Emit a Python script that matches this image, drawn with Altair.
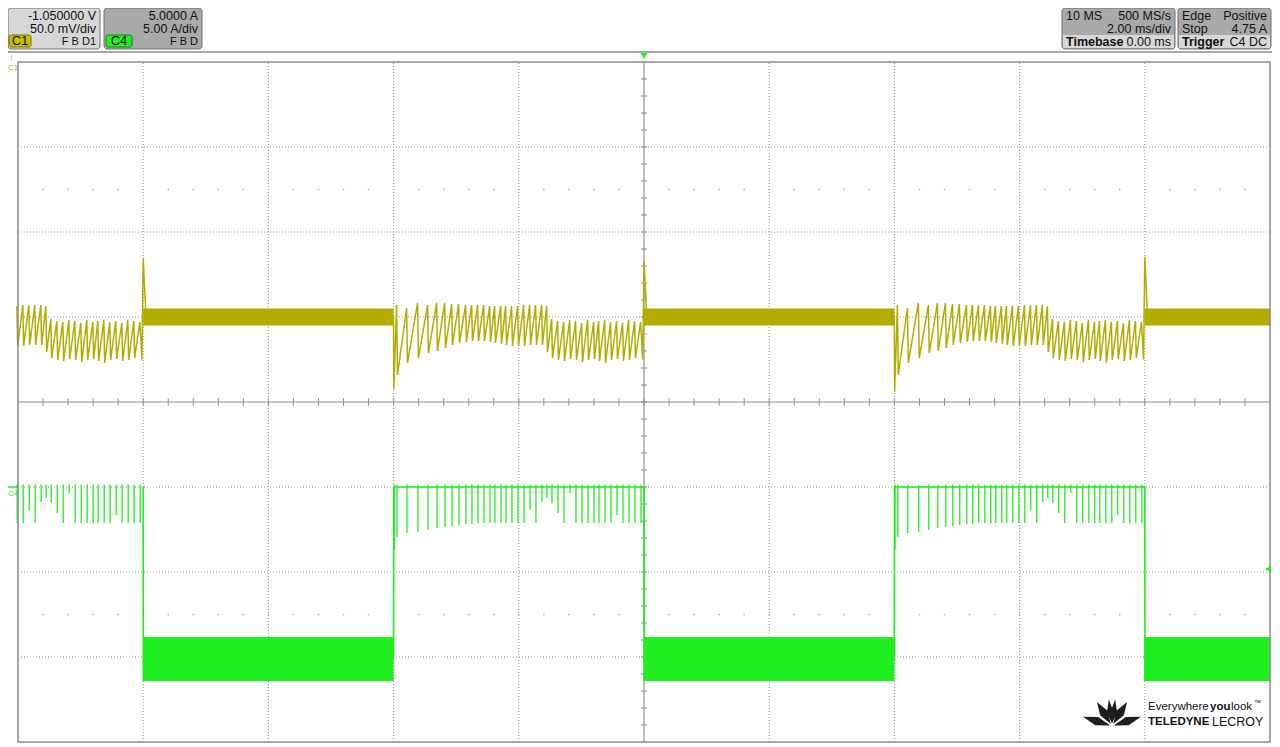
import math
import altair as alt
import pandas as pd

# ---------------- values ----------------
# time in ms (2.00 ms/div, 10 divisions), vertical position in screen divisions (+4 top .. -4 bottom)
c4_high_starts = [-2.0, 6.0, 14.0]          # C4 high level begins (ms)
c4_low_t0 = [2.0, 10.0, 18.0]               # C4 low (noisy band) segments
c4_low_t1 = [6.0, 14.0, 20.0]

# C1: sawtooth during one C4-high phase, times relative to the phase start (ms)
c1_upper_peak_t = [0.048, 0.208, 0.383, 0.543, 0.687, 0.815, 0.927, 1.038, 1.150, 1.246, 1.342, 1.438,
                   1.534, 1.613, 1.709, 1.789, 1.885, 1.981, 2.077, 2.173, 2.268, 2.364, 2.444]
c1_upper_peak_v = [1.141, 1.106, 1.165, 1.141, 1.165, 1.165, 1.153, 1.153, 1.141, 1.141, 1.141, 1.141,
                   1.129, 1.129, 1.129, 1.129, 1.129, 1.129, 1.141, 1.141, 1.141, 1.141, 1.129]
c1_upper_valley_v = [0.153, 0.318, 0.459, 0.518, 0.576, 0.600, 0.635, 0.671, 0.694, 0.706, 0.718, 0.718,
                     0.718, 0.706, 0.694, 0.682, 0.671, 0.659, 0.659, 0.659, 0.671, 0.671, 0.671]
c1_lower_peak_t = [2.524, 2.620, 2.716, 2.812, 2.907, 3.003, 3.099, 3.195, 3.275, 3.371, 3.466, 3.562,
                   3.658, 3.754, 3.850, 3.946]
c1_lower_peak_v = [0.976, 0.953, 0.941, 0.965, 0.953, 0.929, 0.965, 0.941, 0.953, 0.965, 0.941, 0.953,
                   0.929, 0.965, 0.953, 0.941]
c1_lower_valley_v = [0.588, 0.518, 0.494, 0.482, 0.506, 0.494, 0.471, 0.494, 0.506, 0.482, 0.459, 0.494,
                     0.506, 0.482, 0.494, 0.518, 0.500]
c1_band_top = [1.10, 1.10, 1.10]
c1_band_bottom = [0.90, 0.90, 0.90]
c1_band_mid = 1.0
c1_edge_spike = [1.69, 1.65, 1.71]     # overshoot where C4 falls (2, 10, 18 ms)
c1_edge_dip = [0.15, 0.15, 0.12]       # dip where C4 rises (6, 14 ms)

# C4: high level with switching spikes, low level noisy band
c4_high_level = -1.0
c4_band_top = [-2.765, -2.765, -2.765]
c4_band_bottom = [-3.282, -3.282, -3.282]
c4_band_mid = -3.02
c4_edge_spike = -1.741
c4_upper_spike_v = [-1.588, -1.541, -1.529, -1.506, -1.482, -1.471, -1.459, -1.447, -1.435, -1.435, -1.424,
                    -1.424, -1.424, -1.424, -1.424, -1.424, -1.424, -1.424, -1.424, -1.271, -1.424, -1.176,
                    -1.129]
c4_lower_spike_v = [-1.188, -1.306, -1.424, -1.071, -1.424, -1.424, -1.424, -1.424, -1.424, -1.424, -1.424,
                    -1.329, -1.424, -1.424, -1.424, -1.424]
c4_trigger_level = -1.965
trigger_time = 10.0

grid_t = [2, 4, 6, 8, 12, 14, 16, 18]
grid_v = [-3, -2, -1, 1, 2, 3]

# ---------------- geometry of the view ----------------
W, H = 1264, 739
FX0, FX1 = 10, 1262      # frame left / right (px in view)
FY0, FY1 = 54, 734       # frame top / bottom
tpp = 20.0 / (FX1 - FX0)
dpp = 8.0 / (FY1 - FY0)
x_dom = [0 - FX0 * tpp, 20 + (W - FX1) * tpp]
y_dom = [-4 - (H - FY1) * dpp, 4 + FY0 * dpp]
xs = alt.Scale(domain=x_dom, nice=False, zero=False)
ys = alt.Scale(domain=y_dom, nice=False, zero=False)

C1_COL = "#b3ac00"
C4_COL = "#1fee1f"
FONT = "Liberation Sans"

# ---------------- build traces ----------------
peak_t = c1_upper_peak_t + c1_lower_peak_t
peak_v = c1_upper_peak_v + c1_lower_peak_v
spike_v = c4_upper_spike_v + c4_lower_spike_v

c1_pts = []
c4_pts = []
c4_spikes = []
for i, s in enumerate(c4_high_starts):
    valleys = [c1_edge_dip[i]] + c1_upper_valley_v[1:] + c1_lower_valley_v[:-1]
    c1_pts.append((s - 0.002, c1_band_mid))
    for k in range(len(peak_t)):
        tv = s + (peak_t[k - 1] + 0.014 if k else 0.004)
        c1_pts.append((tv, valleys[k]))
        c1_pts.append((s + peak_t[k], peak_v[k]))
    e = s + 4.0
    c1_pts.append((e - 0.02, c1_lower_valley_v[-1]))
    c1_pts.append((e, c1_edge_spike[i]))
    c1_pts.append((e + 0.045, c1_band_mid))
    c1_pts.append((min(e + 4.0, 20.0) - 0.004, c1_band_mid))

    c4_pts.append((s - 0.002, c4_band_mid))
    c4_pts.append((s + 0.003, c4_high_level))
    c4_pts.append((e, c4_high_level))
    c4_pts.append((e + 0.002, c4_band_bottom[i]))
    c4_pts.append((e + 0.010, c4_band_mid))
    c4_pts.append((min(e + 4.0, 20.0) - 0.004, c4_band_mid))
    c4_spikes.append((s + 0.010, c4_edge_spike))
    for k in range(len(peak_t)):
        c4_spikes.append((s + peak_t[k] + 0.006, spike_v[k]))


def keep(pts):
    rows = [{"t": t, "v": v, "o": n} for n, (t, v) in enumerate(pts) if -0.02 <= t <= 20.02]
    return pd.DataFrame(rows)


c1_df = keep(c1_pts)
c4_df = keep(c4_pts)
sp_df = keep(c4_spikes)
sp_df["hi"] = c4_high_level + 0.03
c1_band = pd.DataFrame({"t0": c4_low_t0, "t1": c4_low_t1, "lo": c1_band_bottom, "hi": c1_band_top})
c4_band = pd.DataFrame({"t0": c4_low_t0, "t1": c4_low_t1, "lo": c4_band_bottom, "hi": c4_band_top})

X = lambda f: alt.X(f, type="quantitative", scale=xs, axis=None)
Y = lambda f: alt.Y(f, type="quantitative", scale=ys, axis=None)

dummy = pd.DataFrame({"a": [0]})

layers = []

# ---------------- grid ----------------
vgrid = pd.DataFrame({"t": grid_t, "a": [-4] * len(grid_t), "b": [4] * len(grid_t)})
hgrid = pd.DataFrame({"v": grid_v, "a": [0] * len(grid_v), "b": [20] * len(grid_v)})
layers.append(alt.Chart(vgrid).mark_rule(color="#8f8f8f", strokeDash=[1, 2], strokeWidth=1).encode(
    x=X("t"), y=Y("a"), y2="b"))
layers.append(alt.Chart(hgrid).mark_rule(color="#8f8f8f", strokeDash=[1, 2], strokeWidth=1).encode(
    y=Y("v"), x=X("a"), x2="b"))
center = pd.DataFrame({"t": [trigger_time], "a": [-4], "b": [4]})
layers.append(alt.Chart(center).mark_rule(color="#8f8f8f", strokeWidth=1.2).encode(x=X("t"), y=Y("a"), y2="b"))
hcenter = pd.DataFrame({"v": [0], "a": [0], "b": [20]})
layers.append(alt.Chart(hcenter).mark_rule(color="#8f8f8f", strokeWidth=1.2).encode(y=Y("v"), x=X("a"), x2="b"))

minor_t = [round(0.4 * k, 2) for k in range(1, 50)]
minor_v = [round(-4 + 0.2 * k, 2) for k in range(1, 40)]
mt = pd.DataFrame({"t": minor_t, "a": [-0.045] * len(minor_t), "b": [0.045] * len(minor_t)})
mv = pd.DataFrame({"v": minor_v, "a": [trigger_time - 0.05] * len(minor_v), "b": [trigger_time + 0.05] * len(minor_v)})
layers.append(alt.Chart(mt).mark_rule(color="#8f8f8f", strokeWidth=1).encode(x=X("t"), y=Y("a"), y2="b"))
layers.append(alt.Chart(mv).mark_rule(color="#8f8f8f", strokeWidth=1).encode(y=Y("v"), x=X("a"), x2="b"))
dots = pd.DataFrame({"t": minor_t * 2, "v": [2.5] * len(minor_t) + [-2.5] * len(minor_t)})
layers.append(alt.Chart(dots).mark_square(size=2, color="#b0b0b0", opacity=1).encode(x=X("t"), y=Y("v")))

# ---------------- traces ----------------
layers.append(alt.Chart(c1_df).mark_line(color=C1_COL, strokeWidth=1.5).encode(
    x=X("t"), y=Y("v"), order="o:Q"))
layers.append(alt.Chart(c1_band).mark_rect(color=C1_COL).encode(x=X("t0"), x2="t1", y=Y("lo"), y2="hi"))
layers.append(alt.Chart(c4_df).mark_line(color=C4_COL, strokeWidth=1.6).encode(
    x=X("t"), y=Y("v"), order="o:Q"))
layers.append(alt.Chart(sp_df).mark_rule(color=C4_COL, strokeWidth=1.3).encode(x=X("t"), y=Y("v"), y2="hi"))
layers.append(alt.Chart(c4_band).mark_rect(color=C4_COL).encode(x=X("t0"), x2="t1", y=Y("lo"), y2="hi"))

# ---------------- frame ----------------
frame = pd.DataFrame({"t0": [0], "t1": [20], "lo": [-4], "hi": [4]})
layers.append(alt.Chart(frame).mark_rect(fill=None, stroke="#8a8a8a", strokeWidth=1.5).encode(
    x=X("t0"), x2="t1", y=Y("lo"), y2="hi"))

# ---------------- markers ----------------
trig = pd.DataFrame({"t": [trigger_time]})
layers.append(alt.Chart(trig).mark_point(shape="triangle-down", filled=True, color=C4_COL, size=45, opacity=1).encode(
    x=X("t"), y=alt.value(48)))
tl = pd.DataFrame({"v": [c4_trigger_level]})
layers.append(alt.Chart(tl).mark_point(shape="triangle-left", filled=True, color=C4_COL, size=45, opacity=1).encode(
    x=alt.value(1260), y=Y("v")))
c4m = pd.DataFrame({"v": [c4_high_level]})
layers.append(alt.Chart(c4m).mark_rule(color=C4_COL, strokeWidth=1.5).encode(
    x=alt.value(0), x2=alt.value(FX0), y=Y("v")))


def txt(x, y, s, size=12.5, align="left", weight="normal", color="#111111", font=FONT, baseline="middle"):
    return alt.Chart(dummy).mark_text(text=s, fontSize=size, align=align, fontWeight=weight, color=color,
                                      font=font, baseline=baseline).encode(x=alt.value(x), y=alt.value(y))


def box(x0, x1, y0, y1, fill, stroke=None, r=0, sw=1):
    kw = dict(fill=fill, cornerRadius=r)
    if stroke:
        kw.update(stroke=stroke, strokeWidth=sw)
    return alt.Chart(dummy).mark_rect(**kw).encode(x=alt.value(x0), x2=alt.value(x1), y=alt.value(y0), y2=alt.value(y1))


layers.append(txt(1, 50, "↑", size=10, color=C1_COL))
layers.append(txt(0, 60, "C1", size=8, color=C1_COL))
layers.append(txt(0, 486, "C4", size=8, color=C4_COL))

# ---------------- header ----------------
LIGHT, DARK = "#d7d7d7", "#a9a9a9"
layers.append(box(0, 92, 0, 41, LIGHT, "#6e6e6e", 3))
layers.append(txt(88, 8, "-1.050000 V", align="right"))
layers.append(txt(88, 21, "50.0 mV/div", align="right"))
layers.append(box(1, 23, 27, 39, "#c8bf00", "#7a7400", 2))
layers.append(txt(12, 33, "C1", size=13, align="center"))
layers.append(txt(88, 34, "F  B  D1", size=11, align="right"))

layers.append(box(96, 194, 0, 41, DARK, "#6e6e6e", 3))
layers.append(txt(190, 8, "5.0000 A", align="right"))
layers.append(txt(190, 21, "5.00 A/div", align="right"))
layers.append(box(98, 124, 27, 39, "#22ee22", "#118811", 2))
layers.append(txt(111, 33, "C4", size=13, align="center"))
layers.append(txt(190, 34, "F  B  D", size=11, align="right"))

layers.append(box(1054, 1167, 0, 41, DARK, "#6e6e6e", 3))
layers.append(box(1055, 1166, 27, 40, LIGHT))
layers.append(txt(1058, 8, "10 MS"))
layers.append(txt(1163, 8, "500 MS/s", align="right"))
layers.append(txt(1163, 21, "2.00 ms/div", align="right"))
layers.append(txt(1058, 34, "Timebase", weight="bold"))
layers.append(txt(1163, 34, "0.00 ms", align="right"))

layers.append(box(1170, 1263, 0, 41, DARK, "#6e6e6e", 3))
layers.append(box(1171, 1262, 27, 40, LIGHT))
layers.append(txt(1174, 8, "Edge"))
layers.append(txt(1259, 8, "Positive", align="right"))
layers.append(txt(1174, 21, "Stop"))
layers.append(txt(1259, 21, "4.75 A", align="right"))
layers.append(txt(1174, 34, "Trigger", weight="bold"))
layers.append(txt(1259, 34, "C4  DC", align="right"))

layers.append(alt.Chart(dummy).mark_rule(color="#8c8c8c", strokeWidth=1.5).encode(
    x=alt.value(0), x2=alt.value(W), y=alt.value(44)))

# ---------------- logo ----------------
def petal(ox, oy, ang, r0, r1, w):
    a = math.radians(ang)
    dx, dy = math.cos(a), -math.sin(a)
    nx, ny = -dy, dx
    rm = (r0 + r1) / 2
    p = [(ox + dx * r0, oy + dy * r0), (ox + dx * rm + nx * w, oy + dy * rm + ny * w),
         (ox + dx * r1, oy + dy * r1), (ox + dx * rm - nx * w, oy + dy * rm - ny * w)]
    return "M" + "L".join(f"{x:.3f},{y:.3f}" for x, y in p) + "Z"


logo_path = "".join([
    petal(0, 0.45, 162, 0.06, 1.05, 0.15),
    petal(0, 0.45, 18, 0.06, 1.05, 0.15),
    petal(0, 0.45, 122, 0.08, 0.98, 0.15),
    petal(0, 0.45, 58, 0.08, 0.98, 0.15),
    petal(0, 0.45, 97, 0.10, 0.92, 0.11),
    petal(0, 0.45, 83, 0.10, 0.92, 0.11),
])
layers.append(alt.Chart(dummy).mark_point(shape=logo_path, filled=True, color="#1e1e1e", size=3364, opacity=1,
                                          strokeWidth=0).encode(x=alt.value(1104), y=alt.value(705)))
layers.append(txt(1140, 699, "Everywhere", size=11.5))
layers.append(txt(1202, 699, "you", size=11.5, weight="bold"))
layers.append(txt(1223, 699, "look", size=11.5))
layers.append(txt(1246, 695, "™", size=7))
layers.append(txt(1140, 714, "TELEDYNE", size=11.5, weight="bold"))
layers.append(txt(1204, 714, "LECROY", size=12.5))

chart = alt.layer(*layers).properties(width=W, height=H, padding=0, autosize="none",
                                      background="white").configure_view(stroke=None)
chart.save("out.html", embed_options={"renderer": "svg", "actions": False})
